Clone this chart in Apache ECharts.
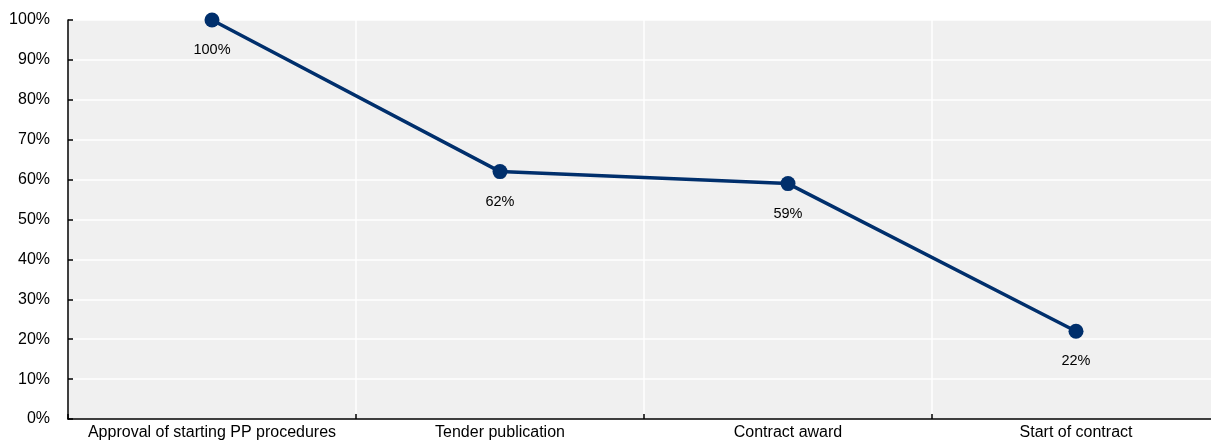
<!DOCTYPE html>
<html>
<head>
<meta charset="utf-8">
<script src="https://cdn.jsdelivr.net/npm/echarts@6/dist/echarts.min.js"></script>
<style>
  html, body { margin: 0; padding: 0; background: #ffffff; overflow: hidden; }
  #chart { width: 1220px; height: 444px; }
</style>
</head>
<body>
<div id="chart"></div>
<script>
// Share of procedures remaining at each stage
const stages = ['Approval of starting PP procedures', 'Tender publication', 'Contract award', 'Start of contract'];
const shares = [100, 62, 59, 22];
const yTicks = { min: 0, max: 100, step: 10 };

const chart = echarts.init(document.getElementById('chart'));
const font = '"Liberation Sans", Arial, sans-serif';

chart.setOption({
  animation: false,
  grid: { left: 68, top: 20, bottom: 25, right: 0, outerBoundsMode: 'none', backgroundColor: '#f0f0f0', show: true, borderWidth: 0 },
  xAxis: {
    type: 'category',
    data: stages,
    boundaryGap: true,
    axisLine: { lineStyle: { color: '#000000', width: 1.5 } },
    axisTick: { show: true, inside: true, length: 5, lineStyle: { color: '#000000', width: 1.5 } },
    axisLabel: { color: '#000000', fontFamily: font, fontSize: 16, margin: 6, interval: 0 },
    splitLine: { show: true, interval: 0, lineStyle: { color: '#ffffff', width: 1.5 } }
  },
  yAxis: {
    type: 'value',
    min: yTicks.min,
    max: yTicks.max,
    interval: yTicks.step,
    axisLine: { show: true, lineStyle: { color: '#000000', width: 1.5 } },
    axisTick: { show: true, inside: true, length: 5, lineStyle: { color: '#000000', width: 1.5 } },
    axisLabel: { color: '#000000', fontFamily: font, fontSize: 16, margin: 18, formatter: '{value}%' },
    splitLine: { show: true, lineStyle: { color: '#ffffff', width: 1.5 } }
  },
  series: [{
    type: 'line',
    data: shares,
    symbol: 'circle',
    symbolSize: 15,
    lineStyle: { color: '#002f6c', width: 3.5 },
    itemStyle: { color: '#002f6c' },
    label: {
      show: true,
      position: 'bottom',
      distance: 15,
      color: '#000000',
      fontFamily: font,
      fontSize: 14.5,
      formatter: p => p.value + '%'
    }
  }]
});
</script>
</body>
</html>
